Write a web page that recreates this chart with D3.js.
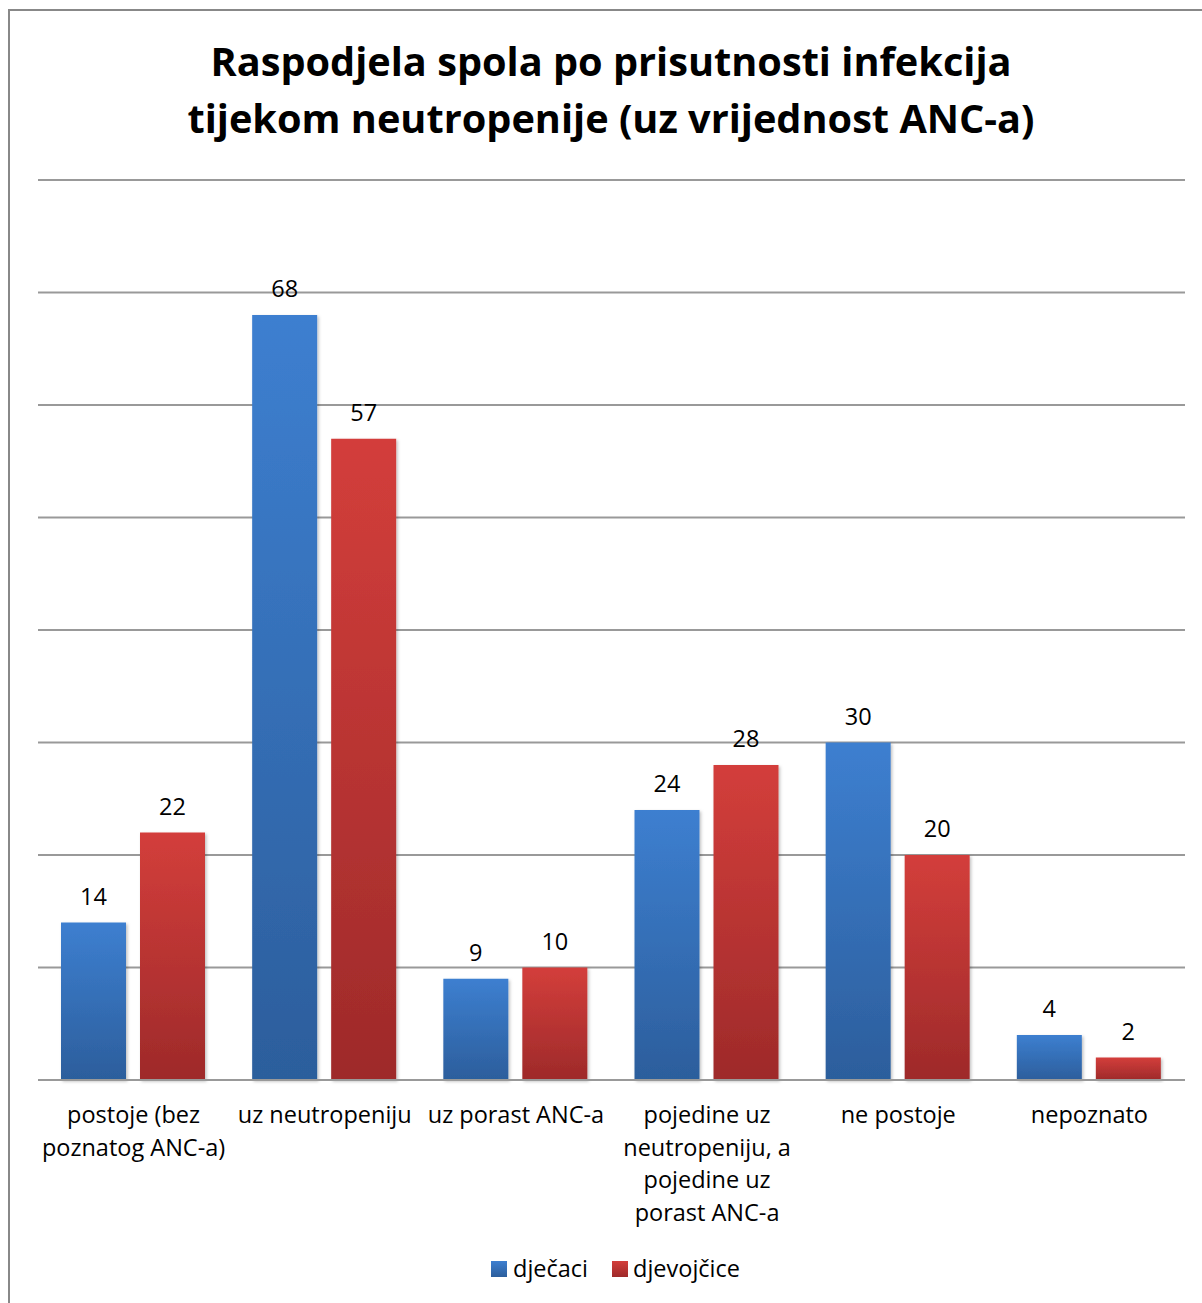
<!DOCTYPE html>
<html><head><meta charset="utf-8">
<script src="https://cdn.jsdelivr.net/npm/d3@7"></script>
<style>
html,body{margin:0;padding:0;background:#fff;}
svg{display:block;}
text{font-variant-ligatures:none;}
</style></head>
<body>
<script>
const categories = [
  ["postoje (bez", "poznatog ANC-a)"],
  ["uz neutropeniju"],
  ["uz porast ANC-a"],
  ["pojedine uz", "neutropeniju, a", "pojedine uz", "porast ANC-a"],
  ["ne postoje"],
  ["nepoznato"]
];
const seriesNames = ["dječaci", "djevojčice"];
const djecaci = [14, 68, 9, 24, 30, 4];
const djevojcice = [22, 57, 10, 28, 20, 2];
const yTicks = [0, 10, 20, 30, 40, 50, 60, 70, 80];
const titleLines = ["Raspodjela spola po prisutnosti infekcija", "tijekom neutropenije (uz vrijednost ANC-a)"];

const W = 1202, H = 1303;
const font = "'Open Sans', Lato, sans-serif";
const fs = 23.5;
const svg = d3.select("body").append("svg").attr("width", W).attr("height", H);

const defs = svg.append("defs");
const grads = [["gBlue", "#3d7fd0", "#2c5e9c"], ["gRed", "#d33e3b", "#9e2a2a"]];
grads.forEach(([id, c1, c2]) => {
  const g = defs.append("linearGradient").attr("id", id).attr("x1", 0).attr("x2", 0).attr("y1", 0).attr("y2", 1);
  g.append("stop").attr("offset", "0%").attr("stop-color", c1);
  g.append("stop").attr("offset", "100%").attr("stop-color", c2);
});
const flt = defs.append("filter").attr("id", "sh").attr("x", "-10%").attr("y", "-5%").attr("width", "130%").attr("height", "115%");
flt.append("feDropShadow").attr("dx", 1.5).attr("dy", 1.5).attr("stdDeviation", 1.5).attr("flood-color", "#000").attr("flood-opacity", 0.25);

// frame
svg.append("path").attr("d", `M${W + 5},10 H9 V${H + 5}`).attr("fill", "none").attr("stroke", "#888").attr("stroke-width", 2);

// title
svg.append("text").attr("x", 611).attr("text-anchor", "middle")
  .attr("font-family", font).attr("font-weight", "bold").attr("font-size", 39.7).attr("fill", "#000")
  .selectAll("tspan").data(titleLines).join("tspan")
  .attr("x", 611).attr("y", (d, i) => 76 + i * 57).text(d => d);

const x0 = 38, x1 = 1185, yTop = 180, yBot = 1080;
const x = d3.scaleBand().domain(d3.range(categories.length)).range([x0, x1]).paddingInner(0).paddingOuter(0);
const y = d3.scaleLinear().domain([0, 80]).range([yBot, yTop]);

// gridlines
svg.append("g").selectAll("line").data(yTicks).join("line")
  .attr("x1", x0).attr("x2", x1).attr("y1", d => y(d)).attr("y2", d => y(d))
  .attr("stroke", "#999").attr("stroke-width", 2);

const bw = x.bandwidth();
const barW = 65, off = 23, gap = 14;
const series = [djecaci, djevojcice];
series.forEach((vals, s) => {
  const g = svg.append("g");
  g.selectAll("rect").data(vals).join("rect")
    .attr("x", (d, i) => x(i) + off + s * (barW + gap))
    .attr("y", d => y(d)).attr("width", barW).attr("height", d => yBot - y(d))
    .attr("fill", `url(#${grads[s][0]})`).attr("filter", "url(#sh)");
  g.selectAll("text").data(vals).join("text")
    .attr("x", (d, i) => x(i) + off + s * (barW + gap) + barW / 2)
    .attr("y", d => y(d) - 18)
    .attr("text-anchor", "middle").attr("font-family", font).attr("font-size", fs).attr("fill", "#000")
    .text(d => d);
});
// redraw baseline on top
svg.append("line").attr("x1", x0).attr("x2", x1).attr("y1", yBot).attr("y2", yBot).attr("stroke", "#999").attr("stroke-width", 2);

// category labels
const cl = svg.append("g");
categories.forEach((lines, i) => {
  cl.append("text").attr("text-anchor", "middle").attr("font-family", font).attr("font-size", fs).attr("fill", "#000")
    .selectAll("tspan").data(lines).join("tspan")
    .attr("x", x(i) + bw / 2).attr("y", (d, j) => 1123 + j * 32.5).text(d => d);
});

// legend
const legend = [[491, 513], [612, 633]];
seriesNames.forEach((n, s) => {
  svg.append("rect").attr("x", legend[s][0]).attr("y", 1261).attr("width", 16).attr("height", 16)
    .attr("fill", `url(#${grads[s][0]})`);
  svg.append("text").attr("x", legend[s][1]).attr("y", 1277).attr("font-family", font).attr("font-size", fs).attr("fill", "#000").text(n);
});
</script>
</body></html>
